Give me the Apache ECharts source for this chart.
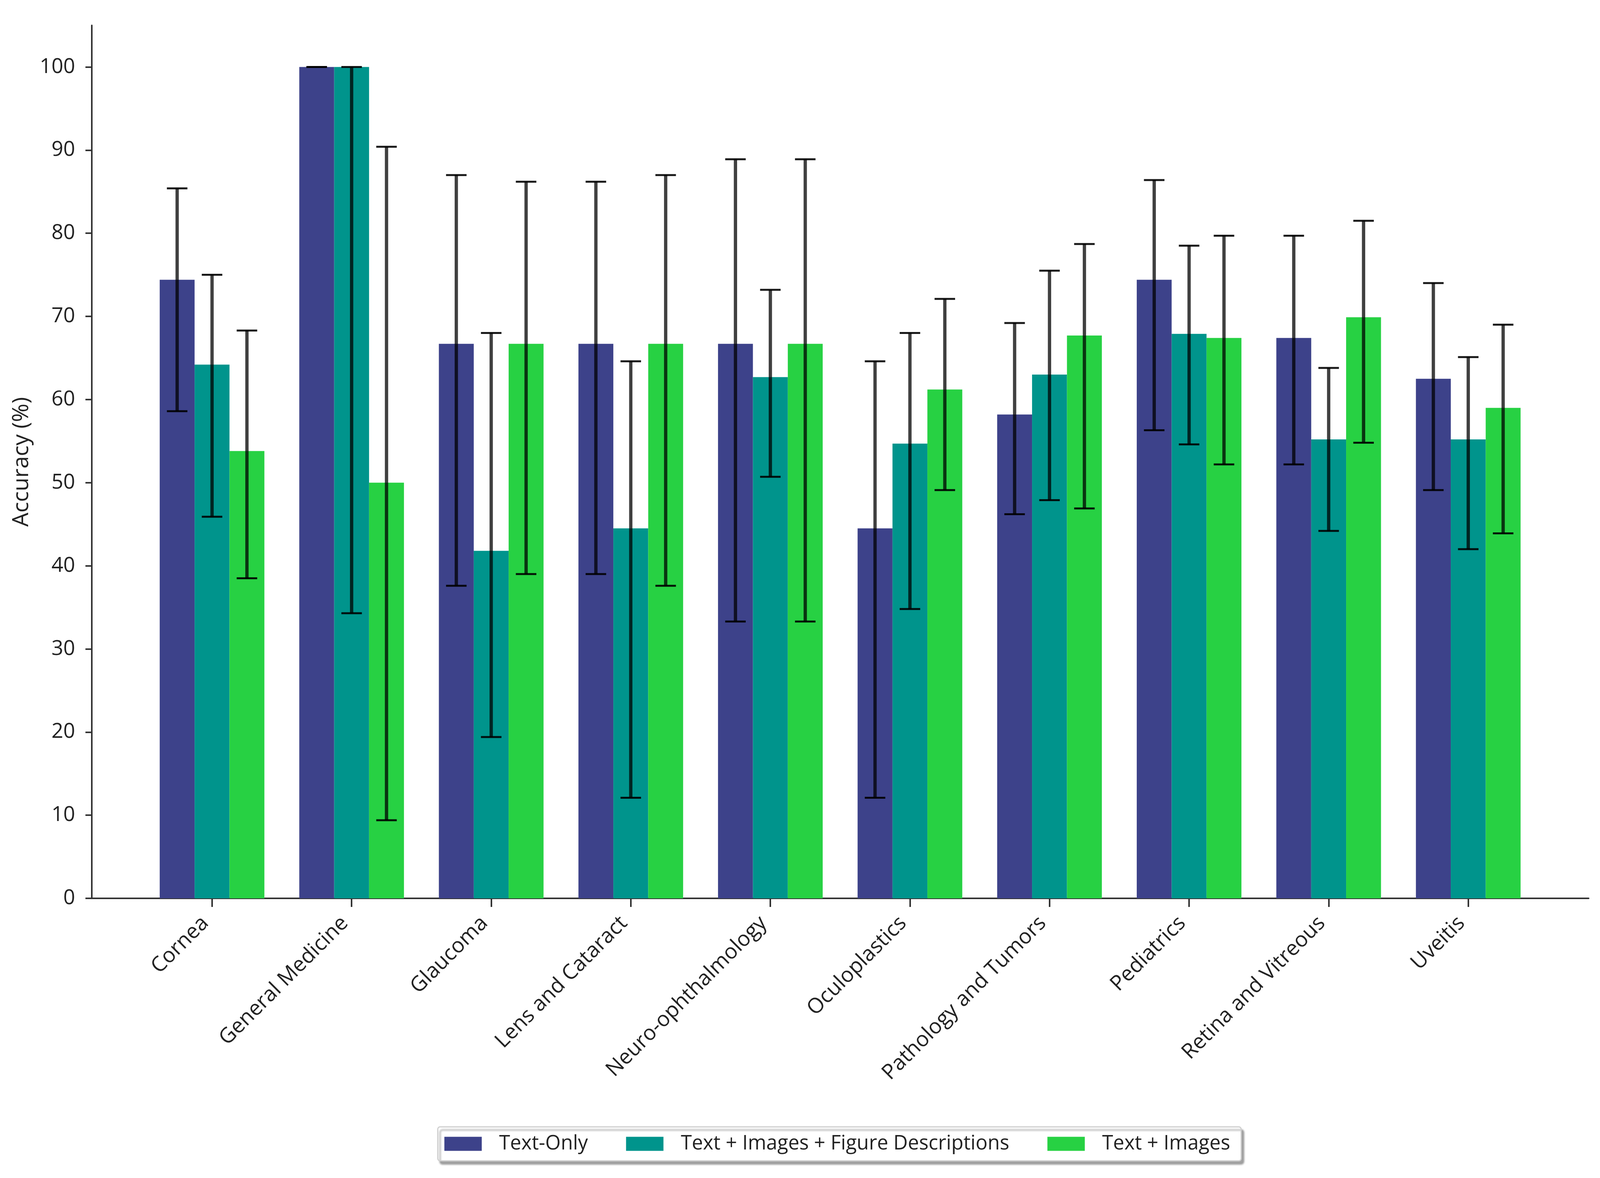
<!DOCTYPE html>
<html>
<head>
<meta charset="utf-8">
<title>Accuracy by subspecialty</title>
<script src="https://cdn.jsdelivr.net/npm/echarts@6/dist/echarts.min.js"></script>
<style>
  html, body { margin: 0; padding: 0; background: #fff; overflow: hidden; }
  #chart { width: 100vw; height: 100vh; }
</style>
</head>
<body>
<div id="chart"></div>
<script>
// categories on the x axis
var categories = ['Cornea', 'General Medicine', 'Glaucoma', 'Lens and Cataract', 'Neuro-ophthalmology',
    'Oculoplastics', 'Pathology and Tumors', 'Pediatrics', 'Retina and Vitreous', 'Uveitis'];

// Text-Only
var textOnly     = [74.4, 100, 66.7, 66.7, 66.7, 44.5, 58.2, 74.4, 67.4, 62.5];
var textOnlyLow  = [58.6, 100, 37.6, 39.0, 33.3, 12.1, 46.2, 56.3, 52.2, 49.1];
var textOnlyHigh = [85.4, 100, 87.0, 86.2, 88.9, 64.6, 69.2, 86.4, 79.7, 74.0];

// Text + Images + Figure Descriptions
var figDesc     = [64.2, 100, 41.8, 44.5, 62.7, 54.7, 63.0, 67.9, 55.2, 55.2];
var figDescLow  = [45.9, 34.3, 19.4, 12.1, 50.7, 34.8, 47.9, 54.6, 44.2, 42.0];
var figDescHigh = [75.0, 100, 68.0, 64.6, 73.2, 68.0, 75.5, 78.5, 63.8, 65.1];

// Text + Images
var textImages     = [53.8, 50.0, 66.7, 66.7, 66.7, 61.2, 67.7, 67.4, 69.9, 59.0];
var textImagesLow  = [38.5, 9.4, 39.0, 37.6, 33.3, 49.1, 46.9, 52.2, 54.8, 43.9];
var textImagesHigh = [68.3, 90.4, 86.2, 87.0, 88.9, 72.1, 78.7, 79.7, 81.5, 69.0];

var yTicks = [0, 10, 20, 30, 40, 50, 60, 70, 80, 90, 100];

var seriesNames = ['Text-Only', 'Text + Images + Figure Descriptions', 'Text + Images'];
var colors = ['#3d428a', '#00948c', '#27d143'];
var barW = 0.25;

var chart = echarts.init(document.getElementById('chart'));
// layout was measured on a 4364x3016 picture, scale it to the real viewport
var sx = chart.getWidth() / 4364;
var sy = chart.getHeight() / 3016;

function makeSeries(k, vals, lows, highs) {
    var off = (k - 1) * barW;
    var data = [];
    for (var i = 0; i < vals.length; i++) {
        data.push([i, vals[i], lows[i], highs[i]]);
    }
    return {
        name: seriesNames[k],
        type: 'custom',
        itemStyle: { color: colors[k] },
        encode: { x: 0, y: 1 },
        data: data,
        renderItem: function (params, api) {
            var i = api.value(0);
            var top = api.coord([i + off - barW / 2, api.value(1)]);
            var bot = api.coord([i + off + barW / 2, 0]);
            var lo = api.coord([i + off, api.value(2)]);
            var hi = api.coord([i + off, api.value(3)]);
            var capHalf = 28 * sx;
            var errStyle = { stroke: 'rgba(0,0,0,0.75)', lineWidth: 9 * sx };
            var capStyle = { stroke: 'rgba(0,0,0,0.9)', lineWidth: 5 * sy };
            return {
                type: 'group',
                children: [
                    {
                        type: 'rect',
                        shape: { x: top[0], y: top[1], width: bot[0] - top[0], height: bot[1] - top[1] },
                        style: { fill: colors[k] }
                    },
                    { type: 'line', shape: { x1: lo[0], y1: lo[1], x2: hi[0], y2: hi[1] }, style: errStyle },
                    { type: 'line', shape: { x1: lo[0] - capHalf, y1: lo[1], x2: lo[0] + capHalf, y2: lo[1] }, style: capStyle },
                    { type: 'line', shape: { x1: hi[0] - capHalf, y1: hi[1], x2: hi[0] + capHalf, y2: hi[1] }, style: capStyle }
                ]
            };
        }
    };
}

var option = {
    animation: false,
    backgroundColor: '#fff',
    grid: { left: 250 * sx, right: 31 * sx, top: 65 * sy, bottom: 716 * sy, containLabel: false },
    legend: {
        data: seriesNames,
        left: 1194 * sx,
        top: 2885 * sy,
        orient: 'horizontal',
        icon: 'rect',
        itemWidth: 102 * sx,
        itemHeight: 36 * sy,
        itemGap: 104 * sx,
        padding: [18 * sy, 30 * sx, 18 * sy, 18 * sx],
        backgroundColor: '#fff',
        borderColor: '#cfcfcf',
        borderWidth: 3,
        borderRadius: 6,
        shadowColor: 'rgba(0,0,0,0.35)',
        shadowBlur: 4,
        shadowOffsetX: 6,
        shadowOffsetY: 8,
        textStyle: { fontFamily: 'Open Sans', fontSize: 51, color: '#222', padding: [0, 0, 0, 42 * sx] }
    },
    xAxis: {
        type: 'value',
        min: -0.8625,
        max: 9.8625,
        splitLine: { show: false },
        axisLine: { show: true, onZero: false, lineStyle: { color: '#333', width: 4 } },
        axisTick: { show: true, length: 22 * sy, customValues: [0, 1, 2, 3, 4, 5, 6, 7, 8, 9],
            lineStyle: { color: '#333', width: 4 } },
        axisLabel: {
            customValues: [0, 1, 2, 3, 4, 5, 6, 7, 8, 9],
            rotate: 45,
            margin: 38 * sy,
            padding: [0, 26 * sx, 0, 0],
            fontFamily: 'Open Sans',
            fontSize: 54,
            color: '#222',
            formatter: function (v) { return categories[Math.round(v)]; }
        }
    },
    yAxis: {
        type: 'value',
        min: 0,
        max: 105,
        name: 'Accuracy (%)',
        nameLocation: 'middle',
        nameRotate: 90,
        nameGap: 160 * sx,
        nameTextStyle: { fontFamily: 'Open Sans', fontSize: 57, color: '#222' },
        splitLine: { show: false },
        axisLine: { show: true, onZero: false, lineStyle: { color: '#333', width: 4 } },
        axisTick: { show: true, length: 17 * sx, customValues: yTicks, lineStyle: { color: '#333', width: 4 } },
        axisLabel: {
            customValues: yTicks,
            margin: 45 * sx,
            fontFamily: 'Open Sans',
            fontSize: 53,
            color: '#222'
        }
    },
    series: [
        makeSeries(0, textOnly, textOnlyLow, textOnlyHigh),
        makeSeries(1, figDesc, figDescLow, figDescHigh),
        makeSeries(2, textImages, textImagesLow, textImagesHigh)
    ]
};

chart.setOption(option);
</script>
</body>
</html>
